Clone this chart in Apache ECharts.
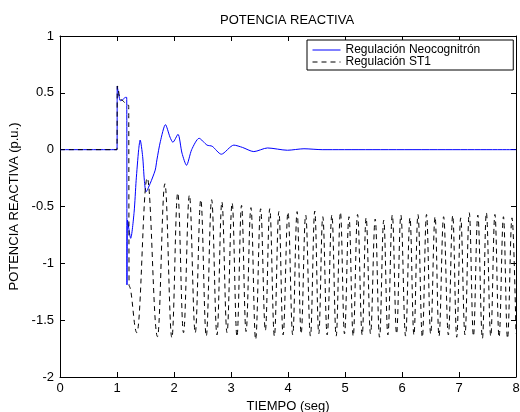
<!DOCTYPE html>
<html>
<head>
<meta charset="utf-8">
<style>html,body{margin:0;padding:0;background:#fff;}#c{width:520px;height:412px;}</style>
<script src="https://cdn.jsdelivr.net/npm/echarts@6/dist/echarts.min.js"></script>
</head>
<body>
<div id="c"></div>
<script>
const titleText = 'POTENCIA REACTIVA';
const xName = 'TIEMPO (seg)';
const yName = 'POTENCIA REACTIVA (p.u.)';
const seriesNames = ['Regulación Neocognitrón', 'Regulación ST1'];

const neoT = [0, 1.0, 1.005, 1.06, 1.10, 1.15, 1.17, 1.175, 1.185, 1.24, 1.30, 1.336, 1.38, 1.406, 1.45, 1.48, 1.51, 1.58, 1.67, 1.70, 1.76, 1.85, 1.93, 1.98, 2.07, 2.14, 2.22, 2.31, 2.44, 2.58, 2.67, 2.83, 3.05, 3.20, 3.40, 3.64, 3.99, 4.28, 4.6, 8.0];
const neoV = [0, 0, 0.56, 0.43, 0.44, 0.46, 0.46, -1.19, -0.62, -0.78, -0.55, -0.27, 0, 0.085, -0.06, -0.27, -0.37, -0.30, -0.18, -0.09, 0.07, 0.22, 0.11, 0.065, 0.135, -0.03, -0.137, 0, 0.10, 0.04, 0.03, -0.04, 0.04, 0.02, -0.017, 0.015, -0.005, 0.008, 0, 0];

const st1T = [0, 1.0, 1.005, 1.06, 1.205, 1.212, 1.348,
  1.53, 1.710, 1.84, 1.963, 2.065, 2.167, 2.27, 2.373, 2.47, 2.566, 2.66, 2.754, 2.84, 2.930,
  3.02, 3.105, 3.185, 3.264, 3.35, 3.432, 3.52, 3.603, 3.68, 3.761, 3.84, 3.914, 4.0, 4.083,
  4.16, 4.230, 4.31, 4.394, 4.47, 4.540, 4.61, 4.687, 4.77, 4.845, 4.92, 4.991, 5.07, 5.144,
  5.22, 5.302, 5.37, 5.448, 5.53, 5.606, 5.68, 5.752, 5.83, 5.905, 5.98, 6.063, 6.14, 6.209,
  6.28, 6.357, 6.43, 6.503, 6.58, 6.649, 6.73, 6.814, 6.89, 6.960, 7.03, 7.105, 7.18, 7.253,
  7.33, 7.411, 7.48, 7.557, 7.63, 7.703, 7.78, 7.851, 7.93, 8.0];
const st1V = [0, 0, 0.56, 0.44, 0.39, -1.2, -1.61,
  -0.25, -1.645, -0.30, -1.655, -0.38, -1.61, -0.40, -1.61, -0.44, -1.64, -0.44, -1.63, -0.46, -1.61,
  -0.47, -1.645, -0.49, -1.60, -0.51, -1.67, -0.52, -1.59, -0.52, -1.64, -0.545, -1.63, -0.55, -1.63,
  -0.545, -1.62, -0.575, -1.64, -0.54, -1.62, -0.59, -1.63, -0.575, -1.64, -0.55, -1.62, -0.59, -1.64,
  -0.57, -1.63, -0.60, -1.62, -0.61, -1.65, -0.62, -1.63, -0.575, -1.62, -0.575, -1.64, -0.60, -1.63,
  -0.57, -1.65, -0.57, -1.62, -0.59, -1.64, -0.59, -1.63, -0.58, -1.65, -0.60, -1.63, -0.555, -1.64,
  -0.575, -1.66, -0.555, -1.64, -0.57, -1.65, -0.59, -1.66, -0.60, -1.62];

const xTicks = {min: 0, max: 8, interval: 1};
const yTicks = {min: -2, max: 1, interval: 0.5};

const BLUE = '#0000ff';
const BLACK = '#000000';
const DASH = [5, 4];
const FONT = 'Liberation Sans, Arial, Helvetica, sans-serif';
const pair = (t, v) => t.map((x, i) => [x, v[i]]);

const baseAxis = {
  axisLine: {show: true, onZero: false, lineStyle: {color: '#000', width: 1}},
  axisTick: {show: true, inside: true, length: 5, lineStyle: {color: '#000', width: 1}},
  splitLine: {show: false},
  axisLabel: {color: '#000', fontSize: 13, fontFamily: FONT}
};

const chart = echarts.init(document.getElementById('c'), null, {renderer: 'canvas'});
chart.setOption({
  animation: false,
  backgroundColor: '#fff',
  title: {
    text: titleText, left: 220, top: 14, padding: 0,
    textStyle: {color: '#000', fontSize: 13, fontWeight: 'normal', fontFamily: FONT}
  },
  grid: {left: 60, right: 4, top: 36, bottom: 35, containLabel: false, outerBoundsMode: 'none'},
  legend: {
    orient: 'vertical', left: 307, top: 40,
    padding: [4, 33, 2, 5], itemGap: 0, itemWidth: 28, itemHeight: 10,
    borderColor: '#000', borderWidth: 1, backgroundColor: '#fff', borderRadius: 0,
    itemStyle: {opacity: 0, borderWidth: 0},
    textStyle: {color: '#000', fontSize: 12, fontFamily: FONT},
    data: [
      {name: seriesNames[0], itemStyle: {opacity: 0}, lineStyle: {color: BLUE, width: 1, type: 'solid', opacity: 1}},
      {name: seriesNames[1], itemStyle: {opacity: 0}, lineStyle: {color: BLACK, width: 1, type: DASH, opacity: 1}}
    ]
  },
  xAxis: [
    Object.assign({}, baseAxis, {type: 'value', position: 'bottom', min: xTicks.min, max: xTicks.max, interval: xTicks.interval,
      name: xName, nameLocation: 'middle', nameGap: 10,
      nameTextStyle: {color: '#000', fontSize: 13, fontFamily: FONT},
      axisLabel: {color: '#000', fontSize: 13, fontFamily: FONT, margin: 5}}),
    Object.assign({}, baseAxis, {type: 'value', position: 'top', min: xTicks.min, max: xTicks.max, interval: xTicks.interval,
      axisLabel: {show: false}})
  ],
  yAxis: [
    Object.assign({}, baseAxis, {type: 'value', position: 'left', min: yTicks.min, max: yTicks.max, interval: yTicks.interval,
      name: yName, nameLocation: 'middle', nameGap: 33,
      nameTextStyle: {color: '#000', fontSize: 13, fontFamily: FONT},
      axisLabel: {color: '#000', fontSize: 13, fontFamily: FONT, margin: 6}}),
    Object.assign({}, baseAxis, {type: 'value', position: 'right', min: yTicks.min, max: yTicks.max, interval: yTicks.interval,
      axisLabel: {show: false}})
  ],
  series: [
    {
      name: seriesNames[0], type: 'line', xAxisIndex: 0, yAxisIndex: 0,
      data: pair(neoT, neoV), symbol: 'none', showSymbol: false,
      smooth: 0.25,
      lineStyle: {color: BLUE, width: 1}, itemStyle: {color: BLUE},
      z: 2
    },
    {
      name: seriesNames[1], type: 'line', xAxisIndex: 0, yAxisIndex: 0,
      data: pair(st1T, st1V), symbol: 'none', showSymbol: false,
      smooth: 0.4, smoothMonotone: 'x',
      lineStyle: {color: BLACK, width: 1, type: DASH}, itemStyle: {color: BLACK},
      z: 3
    }
  ]
});
</script>
</body>
</html>
